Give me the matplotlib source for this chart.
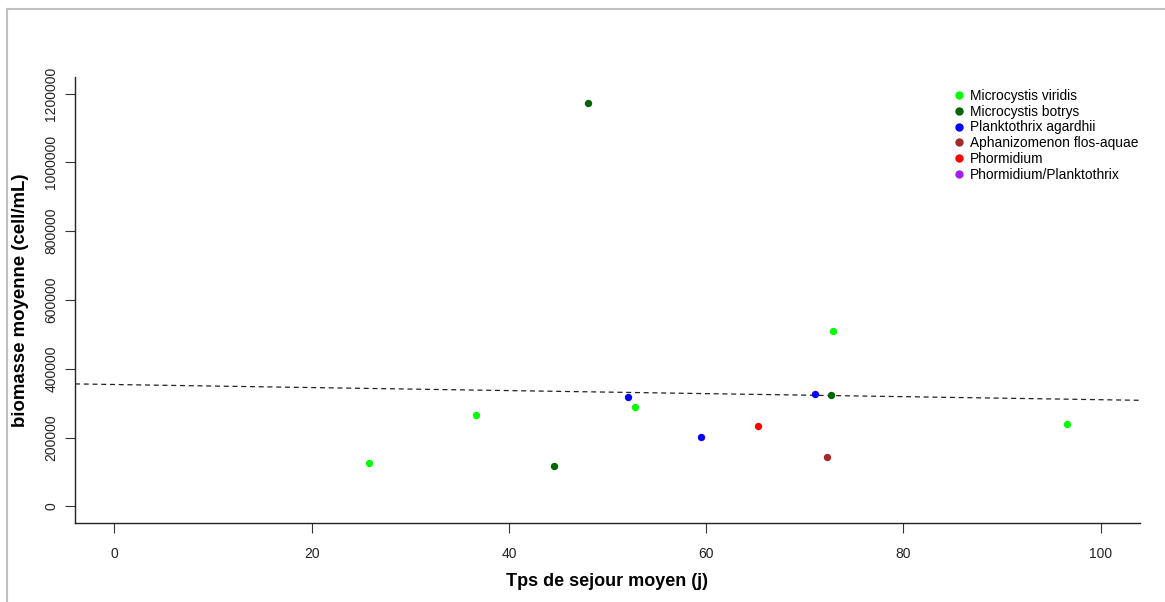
import numpy as np
import matplotlib.pyplot as plt
from matplotlib.lines import Line2D

plt.rcParams['font.family'] = ['Liberation Sans', 'DejaVu Sans']

# Data
species = ['Microcystis viridis', 'Microcystis botrys', 'Planktothrix agardhii',
           'Aphanizomenon flos-aquae', 'Phormidium', 'Phormidium/Planktothrix']
colors = ['#00ff00', '#006400', '#0000ff', '#a52a2a', '#ff0000', '#a020f0']

viridis_x = [25.8, 36.7, 52.8, 72.9, 96.6]
viridis_y = [125000, 267000, 290500, 511000, 241000]
botrys_x = [44.6, 48.0, 72.7]
botrys_y = [119000, 1171000, 322500]
agardhii_x = [52.1, 59.5, 71.0]
agardhii_y = [319500, 200500, 325500]
aphan_x = [72.3]
aphan_y = [142500]
phorm_x = [65.3]
phorm_y = [232500]
phorm_plank_x = []
phorm_plank_y = []

xs = [viridis_x, botrys_x, agardhii_x, aphan_x, phorm_x, phorm_plank_x]
ys = [viridis_y, botrys_y, agardhii_y, aphan_y, phorm_y, phorm_plank_y]

fig = plt.figure(figsize=(11.65, 6.02), dpi=100)
ax = fig.add_axes([75 / 1165, (602 - 523) / 602, (1140 - 75) / 1165, (523 - 77) / 602])

for x, y, c in zip(xs, ys, colors):
    ax.scatter(x, y, s=28, color=c, zorder=3, linewidths=0)

# linear regression over all points (dashed, full width)
all_x = np.concatenate([np.array(v, dtype=float) for v in xs])
all_y = np.concatenate([np.array(v, dtype=float) for v in ys])
slope, intercept = np.polyfit(all_x, all_y, 1)
xlim = (-4, 104)
xl = np.array(xlim)
ax.plot(xl, intercept + slope * xl, color='#222222', linestyle=(0, (4, 3)), linewidth=0.9)

ax.set_xlim(*xlim)
ax.set_ylim(-48000, 1248000)
ax.set_xticks([0, 20, 40, 60, 80, 100])
ax.set_yticks([0, 200000, 400000, 600000, 800000, 1000000, 1200000])
ax.set_yticklabels(['0', '200000', '400000', '600000', '800000', '1000000', '1200000'],
                   rotation=90, va='center')
ax.tick_params(axis='both', labelsize=10, length=7, width=0.8, color='#333333',
               labelcolor='#222222')
ax.tick_params(axis='x', pad=10)
ax.tick_params(axis='y', pad=5)
for s in ['top', 'right']:
    ax.spines[s].set_visible(False)
for s in ['left', 'bottom']:
    ax.spines[s].set_linewidth(1.0)
    ax.spines[s].set_color('#222222')

ax.set_xlabel('Tps de sejour moyen (j)', fontsize=13, fontweight='bold', labelpad=9)
ax.set_ylabel('biomasse moyenne (cell/mL)', fontsize=13.4, fontweight='bold', labelpad=11)

handles = [Line2D([], [], marker='o', linestyle='', color=c, markersize=5) for c in colors]
ax.legend(handles, species, loc='upper left', bbox_to_anchor=(0.817, 0.986), frameon=False,
          fontsize=9.9, handletextpad=0.2, labelspacing=0.13, handlelength=1.2,
          borderaxespad=0)

# gray frame around the image (top and left edges)
fig.add_artist(Line2D([7 / 1165, 1], [1 - 9 / 602, 1 - 9 / 602], color='#c0c0c0', linewidth=1.5))
fig.add_artist(Line2D([7 / 1165, 7 / 1165], [0, 1 - 9 / 602], color='#c0c0c0', linewidth=1.5))

fig.savefig('out.png', dpi=100)
